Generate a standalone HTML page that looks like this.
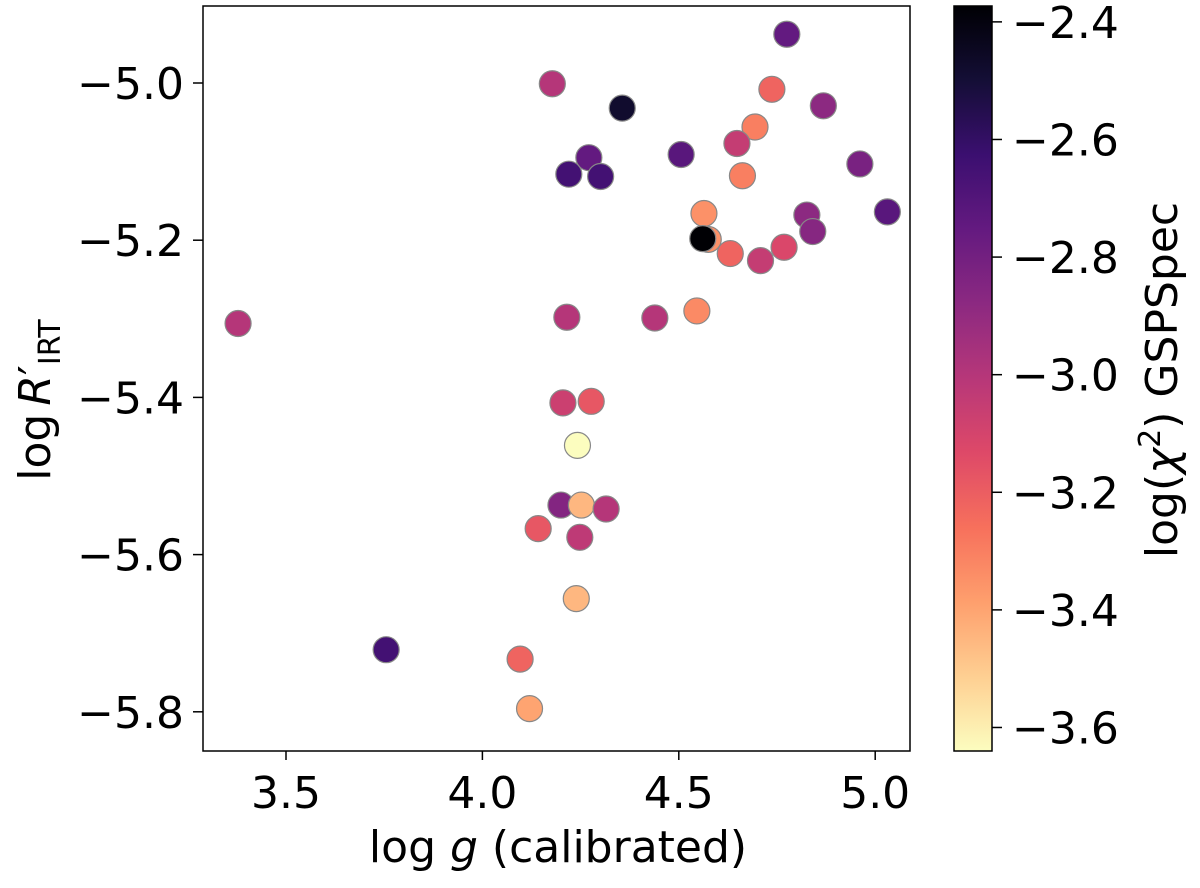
<!DOCTYPE html>
<html><head><meta charset="utf-8"><style>
body{margin:0;background:#fff;}
svg text{font-family:"DejaVu Sans","Liberation Sans",sans-serif;fill:#000;}
</style></head><body>
<svg id="chart" width="1200" height="883" viewBox="0 0 1200 883" xmlns="http://www.w3.org/2000/svg">
<defs><linearGradient id="magma" x1="0" y1="0" x2="0" y2="1">
<stop offset="0" stop-color="#000004"/><stop offset="0.1" stop-color="#140e36"/><stop offset="0.2" stop-color="#3b0f70"/><stop offset="0.3" stop-color="#641a80"/><stop offset="0.4" stop-color="#8c2981"/><stop offset="0.5" stop-color="#b73779"/><stop offset="0.6" stop-color="#de4968"/><stop offset="0.7" stop-color="#f7705c"/><stop offset="0.8" stop-color="#fe9f6d"/><stop offset="0.9" stop-color="#fecf92"/><stop offset="1" stop-color="#fcfdbf"/>
</linearGradient></defs>
<g id="points"></g>
<rect x="203" y="6" width="707" height="745" fill="none" stroke="#000" stroke-width="1.5"/>
<g id="xticks"></g>
<g id="yticks"></g>
<text x="558" y="862" font-size="44" text-anchor="middle">log <tspan font-style="italic">g</tspan> (calibrated)</text>
<text transform="translate(50,400) rotate(-90)" font-size="44" text-anchor="middle">log<tspan font-style="italic" dx="8">R</tspan>′<tspan font-size="30" dy="10">IRT</tspan></text>
<rect x="954" y="6" width="38" height="745" fill="url(#magma)" stroke="#000" stroke-width="1.5"/>
<g id="cticks"></g>
<text transform="translate(1177,380) rotate(-90)" font-size="44" text-anchor="middle">log(<tspan font-style="italic">χ</tspan><tspan font-size="30" dy="-17">2</tspan><tspan dy="17">) GSPSpec</tspan></text>
</svg>
<script>
const logg = [4.775,4.178,4.356,4.737,4.868,4.694,4.648,4.506,4.271,4.220,4.301,4.961,4.662,4.564,5.031,4.826,4.841,4.575,4.561,4.631,4.768,4.708,4.546,4.215,4.439,3.378,4.205,4.277,4.242,4.200,4.252,4.315,4.142,4.248,4.239,3.755,4.096,4.120];
const logR = [-4.938,-5.001,-5.032,-5.008,-5.029,-5.056,-5.077,-5.091,-5.095,-5.116,-5.119,-5.103,-5.118,-5.166,-5.164,-5.168,-5.189,-5.199,-5.198,-5.217,-5.209,-5.226,-5.290,-5.298,-5.299,-5.306,-5.407,-5.405,-5.461,-5.537,-5.537,-5.542,-5.567,-5.578,-5.656,-5.721,-5.733,-5.796];
const chi = [-2.75,-3.0,-2.48,-3.22,-2.88,-3.3,-3.05,-2.72,-2.75,-2.65,-2.65,-2.82,-3.3,-3.35,-2.72,-2.88,-2.86,-3.35,-2.373,-3.22,-3.12,-3.05,-3.33,-3.0,-3.0,-3.0,-3.07,-3.18,-3.64,-2.85,-3.45,-3.0,-3.18,-3.03,-3.45,-2.65,-3.22,-3.4];
const xTicks = [3.5,4.0,4.5,5.0];
const yTicks = [-5.0,-5.2,-5.4,-5.6,-5.8];
const cTicks = [-2.4,-2.6,-2.8,-3.0,-3.2,-3.4,-3.6];
const cMin = -3.640, cMax = -2.373;

const NS = "http://www.w3.org/2000/svg";
function xs(v){return 286 + (v-3.5)*392.8;}
function ys(v){return 83 + (-5.0 - v)*786;}
function cs(v){return 6 + (cMax - v)/(cMax-cMin)*745;}
const stops=[[0,[0,0,4]],[0.1,[20,14,54]],[0.2,[59,15,112]],[0.3,[100,26,128]],[0.4,[140,41,129]],[0.5,[183,55,121]],[0.6,[222,73,104]],[0.7,[247,112,92]],[0.8,[254,159,109]],[0.9,[254,207,146]],[1,[252,253,191]]];
function magma(v){
  let t=(cMax-v)/(cMax-cMin); t=Math.max(0,Math.min(1,t));
  for(let i=1;i<stops.length;i++){ if(t<=stops[i][0]){const a=stops[i-1],b=stops[i];const f=(t-a[0])/(b[0]-a[0]);
    return 'rgb('+a[1].map((c,k)=>Math.round(c+(b[1][k]-c)*f)).join(',')+')';}}
  return 'rgb(252,253,191)';
}
function mk(tag,attrs,parent){const e=document.createElementNS(NS,tag);for(const k in attrs)e.setAttribute(k,attrs[k]);parent.appendChild(e);return e;}
const fmt=v=>(v<0?'\u2212':'')+Math.abs(v).toFixed(1);

const gp=document.getElementById('points');
for(let i=0;i<logg.length;i++){
  const c=mk('circle',{cx:xs(logg[i]),cy:ys(logR[i]),r:13,fill:magma(chi[i]),stroke:'#888','stroke-width':1.2},gp);
  
  
}
const gx=document.getElementById('xticks');
xTicks.forEach(v=>{
  const l=mk('line',{x1:xs(v),x2:xs(v),y1:751,y2:760,stroke:'#000','stroke-width':1.5},gx);
  
  
  const t=mk('text',{x:xs(v),y:808,'font-size':44,'text-anchor':'middle'},gx);t.textContent=fmt(v).replace('\u2212','');
  
  
});
const gy=document.getElementById('yticks');
yTicks.forEach(v=>{
  const l=mk('line',{x1:193,x2:203,y1:ys(v),y2:ys(v),stroke:'#000','stroke-width':1.5},gy);
  
  
  const t=mk('text',{x:184,y:ys(v)+16,'font-size':44,'text-anchor':'end'},gy);t.textContent=fmt(v);
  
  
});
const gc=document.getElementById('cticks');
cTicks.forEach(v=>{
  const l=mk('line',{x1:992,x2:1002,y1:cs(v),y2:cs(v),stroke:'#000','stroke-width':1.5},gc);
  
  
  const t=mk('text',{x:1012,y:cs(v)+16,'font-size':44,'text-anchor':'start'},gc);t.textContent=fmt(v);
  
  
});
</script>
</body></html>
